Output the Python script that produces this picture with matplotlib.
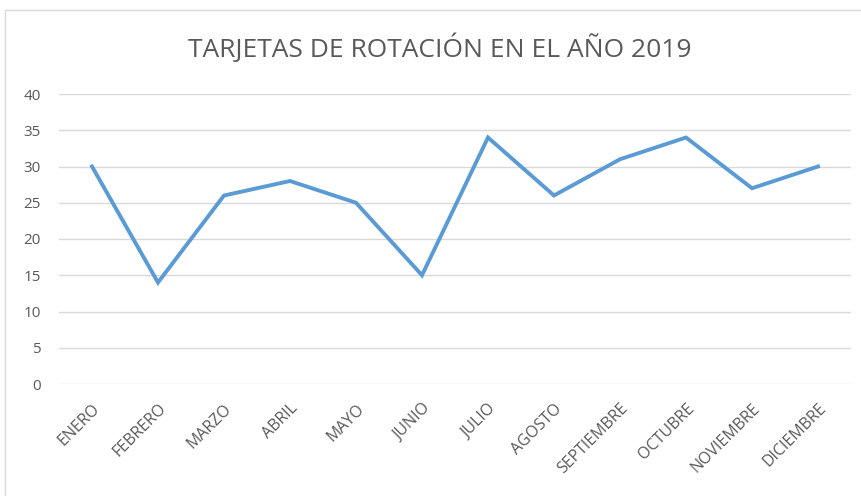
import matplotlib.pyplot as plt
from matplotlib.patches import Rectangle

meses = ['ENERO', 'FEBRERO', 'MARZO', 'ABRIL', 'MAYO', 'JUNIO', 'JULIO',
         'AGOSTO', 'SEPTIEMBRE', 'OCTUBRE', 'NOVIEMBRE', 'DICIEMBRE']
tarjetas = [30, 14, 26, 28, 25, 15, 34, 26, 31, 34, 27, 30]
yticks = [0, 5, 10, 15, 20, 25, 30, 35, 40]

plt.rcParams['font.family'] = ['Open Sans', 'DejaVu Sans']

fig = plt.figure(figsize=(8.62, 4.96), dpi=100)
ax = fig.add_axes([59/862, 1 - 384/496, 792/862, 290/496])

# marco del grafico
fig.patches.append(Rectangle((5/862, -0.1), 1.2, 1 - 10/496 + 0.1,
                             transform=fig.transFigure, fill=False,
                             edgecolor='#D9D9D9', linewidth=1))

x = range(len(meses))
ax.plot(x, tarjetas, color='#5B9BD5', linewidth=2.8, solid_joinstyle='miter')

ax.set_xlim(-0.5, len(meses) - 0.5)
ax.set_ylim(0, 40)
ax.set_yticks(yticks)
ax.yaxis.grid(True, color='#D9D9D9', linewidth=1)
ax.set_axisbelow(True)
for s in ax.spines.values():
    s.set_visible(False)
ax.tick_params(length=0, colors='#595959', labelsize=11)
ax.tick_params(axis='y', pad=13)
ax.set_xticks(list(x))
ax.set_xticklabels(meses, rotation=45, ha='right', va='top',
                   rotation_mode='anchor', fontsize=11.5)
ax.tick_params(axis='x', pad=12)

fig.text(440/862, 1 - 48/496, 'TARJETAS DE ROTACIÓN EN EL AÑO 2019',
         ha='center', va='center', fontsize=19, color='#595959')

fig.savefig('out.png', dpi=100)
